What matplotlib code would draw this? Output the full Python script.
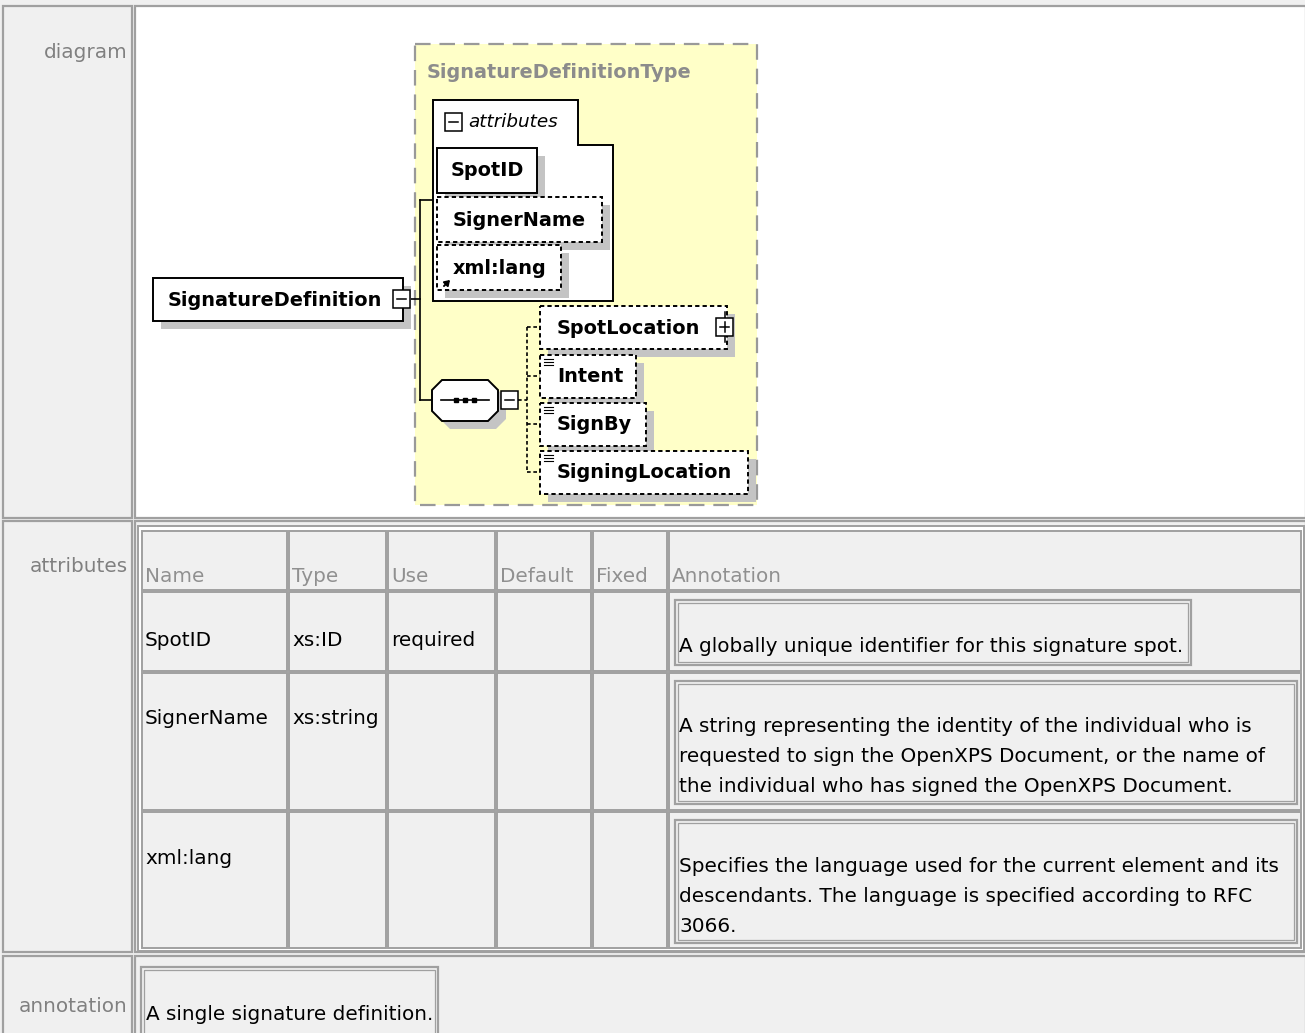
import matplotlib
matplotlib.use("Agg")
import matplotlib.pyplot as plt
from matplotlib.patches import Rectangle, Polygon

# ---- content ----
row_labels = ["diagram", "attributes", "annotation"]
col_headers = ["Name", "Type", "Use", "Default", "Fixed", "Annotation"]
attr_names = ["SpotID", "SignerName", "xml:lang"]
attr_types = ["xs:ID", "xs:string", ""]
attr_use = ["required", "", ""]
attr_default = ["", "", ""]
attr_fixed = ["", "", ""]
attr_notes = [
    ["A globally unique identifier for this signature spot."],
    ["A string representing the identity of the individual who is",
     "requested to sign the OpenXPS Document, or the name of",
     "the individual who has signed the OpenXPS Document."],
    ["Specifies the language used for the current element and its",
     "descendants. The language is specified according to RFC",
     "3066."],
]
element_annotation = "A single signature definition."

type_name = "SignatureDefinitionType"
element_name = "SignatureDefinition"
attr_group_label = "attributes"
child_elements = ["SpotLocation", "Intent", "SignBy", "SigningLocation"]

# ---- figure in pixel coords ----
W, H = 1305, 1033
fig = plt.figure(figsize=(W / 100, H / 100), dpi=100, facecolor="#f0f0f0")
ax = fig.add_axes([0, 0, 1, 1])
ax.set_xlim(0, W)
ax.set_ylim(H, 0)
ax.axis("off")

GRAY = "#a0a0a0"
BG = "#f0f0f0"
SHADOW = "#c4c4c4"
TXT = 14.4
FONT = "DejaVu Sans"


def rect(x0, y0, x1, y1, fc="none", ec=GRAY, lw=1.5, ls="-", z=1):
    ax.add_patch(Rectangle((x0, y0), x1 - x0, y1 - y0, fc=fc, ec=ec, lw=lw,
                           ls=ls, zorder=z))


def box(x0, y0, x1, y1, dashed=False, z=5):
    # diagram node with drop shadow
    rect(x0 + 8, y0 + 8, x1 + 8, y1 + 8, fc=SHADOW, ec="none", lw=0, z=z)
    rect(x0, y0, x1, y1, fc="white", ec="black", lw=1.4,
         ls=(0, (2.2, 1.6)) if dashed else "-", z=z + 1)


def minus_box(x, y, z=8):
    rect(x, y, x + 17, y + 18, fc="white", ec="black", lw=1.1, z=z)
    ax.plot([x + 4, x + 13], [y + 9, y + 9], color="black", lw=1.1, zorder=z + 1)


def plus_box(x, y, z=8):
    ax.plot([x + 8.5, x + 8.5], [y - 6, y + 24], color="black", lw=1.1, zorder=z)
    rect(x, y, x + 17, y + 18, fc="white", ec="black", lw=1.1, z=z + 1)
    ax.plot([x + 4, x + 13], [y + 9, y + 9], color="black", lw=1.1, zorder=z + 2)
    ax.plot([x + 8.5, x + 8.5], [y + 4, y + 14], color="black", lw=1.1, zorder=z + 2)


def doc_icon(x, y, z=9):
    for k in range(3):
        ax.plot([x, x + 9], [y + k * 3, y + k * 3], color="black", lw=0.8, zorder=z)


def label(x, y, s, **kw):
    kw.setdefault("fontsize", TXT)
    kw.setdefault("family", FONT)
    kw.setdefault("va", "center")
    kw.setdefault("zorder", 12)
    ax.text(x, y, s, **kw)


# ---- outer table ----
outer_rows = [(6, 518), (521, 952), (956, 1045)]
label_y = [52, 567, 1006]
content_fc = ["white", BG, BG]
for (y0, y1), lab, ly, fc in zip(outer_rows, row_labels, label_y, content_fc):
    rect(3, y0, 132, y1, fc=BG, ec=GRAY, lw=1.6)
    rect(135, y0, 1306, y1, fc=fc, ec=GRAY, lw=1.6)
    label(128, ly, lab, ha="right", color="#808080")

# ---- attributes table ----
col_x = [141, 288, 387, 496, 592, 668, 1302]
row_y = [530, 591, 672, 811, 949]
rect(138, 526, 1304, 951, fc="white", ec=GRAY, lw=1.4, z=1)
for r in range(len(row_y) - 1):
    for c in range(len(col_x) - 1):
        rect(col_x[c] + 1, row_y[r] + 1, col_x[c + 1] - 1, row_y[r + 1] - 1,
             fc=BG, ec=GRAY, lw=1.4, z=2)

for c, h in enumerate(col_headers):
    label(col_x[c] + 4, 576, h, color="#909090")

text_y = [640, 719, 859]
for r in range(len(attr_names)):
    vals = [attr_names[r], attr_types[r], attr_use[r], attr_default[r], attr_fixed[r]]
    for c, v in enumerate(vals):
        if v:
            label(col_x[c] + 4, text_y[r], v, color="black")

note_boxes = [(675, 600, 1191, 665), (675, 681, 1297, 804), (675, 820, 1297, 943)]
note_y0 = [647, 727, 866]
for (x0, y0, x1, y1), lines, ny in zip(note_boxes, attr_notes, note_y0):
    rect(x0, y0, x1, y1, fc=BG, ec=GRAY, lw=1.6, z=3)
    rect(x0 + 3, y0 + 3, x1 - 3, y1 - 3, fc="none", ec=GRAY, lw=0.9, z=3)
    for k, line in enumerate(lines):
        label(x0 + 4, ny + 30 * k, line, color="black")

# ---- element annotation ----
rect(141, 967, 438, 1045, fc=BG, ec=GRAY, lw=1.6, z=3)
rect(144, 970, 435, 1045, fc="none", ec=GRAY, lw=0.9, z=3)
label(146, 1014, element_annotation, color="black")

# ---- diagram ----
rect(415, 44, 757, 505, fc="#ffffc8", ec="#999999", lw=1.6, ls=(0, (7, 4)), z=2)
label(427, 72, type_name, fontsize=13.9, weight="bold", color="#8c8c8c")

# attribute group tab shape
ax.add_patch(Polygon([(433, 100), (578, 100), (578, 145), (613, 145), (613, 301),
                      (433, 301)], closed=True, fc="white", ec="black", lw=1.4,
                     zorder=4))
minus_box(445, 113)
label(468, 122, attr_group_label, fontsize=13.2, style="italic", color="black")

bold = dict(fontsize=13.9, weight="bold", color="black")
box(437, 148, 537, 193)
label(487, 171, attr_names[0], ha="center", **bold)
box(437, 197, 602, 242, dashed=True)
label(453, 220, attr_names[1], **bold)
box(437, 245, 561, 290, dashed=True)
label(453, 268, attr_names[2], **bold)
ax.annotate("", xy=(452, 278), xytext=(442, 288), zorder=10,
            arrowprops=dict(arrowstyle="-|>,head_length=0.3,head_width=0.2",
                            color="black", lw=1.4))

# main element
box(153, 278, 403, 321)
label(168, 300, element_name, **bold)
minus_box(393, 290, z=10)

# solid connectors
ax.plot([410, 420], [299, 299], color="black", lw=1.2, zorder=3)
ax.plot([420, 420], [200, 400], color="black", lw=1.2, zorder=3)
ax.plot([420, 433], [200, 200], color="black", lw=1.2, zorder=3)
ax.plot([420, 433], [400, 400], color="black", lw=1.2, zorder=3)

# sequence compositor
oct_pts = [(432, 390), (442, 380), (488, 380), (498, 390), (498, 411),
           (488, 421), (442, 421), (432, 411)]
ax.add_patch(Polygon([(px + 8, py + 8) for px, py in oct_pts], closed=True,
                     fc=SHADOW, ec="none", zorder=5))
ax.add_patch(Polygon(oct_pts, closed=True, fc="white", ec="black", lw=1.4,
                     zorder=6))
ax.plot([441, 489], [400, 400], color="black", lw=1.2, zorder=7)
ax.plot([456, 465, 474], [400, 400, 400], "s", color="black", ms=3.5, zorder=7)
minus_box(501, 391)

# dashed connectors to children
dash = dict(color="black", lw=1.2, ls=(0, (2.2, 1.6)), zorder=3)
child_y = [327, 376, 424, 472]
ax.plot([518, 527], [400, 400], **dash)
ax.plot([527, 527], [child_y[0], child_y[-1]], **dash)
for cy in child_y:
    ax.plot([527, 540], [cy, cy], **dash)

child_right = [727, 636, 646, 748]
for name, cy, xr in zip(child_elements, child_y, child_right):
    box(540, cy - 21, xr, cy + 22, dashed=True)
    label(557, cy + 1, name, **bold)
    if name != child_elements[0]:
        doc_icon(544, cy - 17)
plus_box(716, 318, z=10)

fig.savefig("out.png", dpi=100, facecolor=fig.get_facecolor())
